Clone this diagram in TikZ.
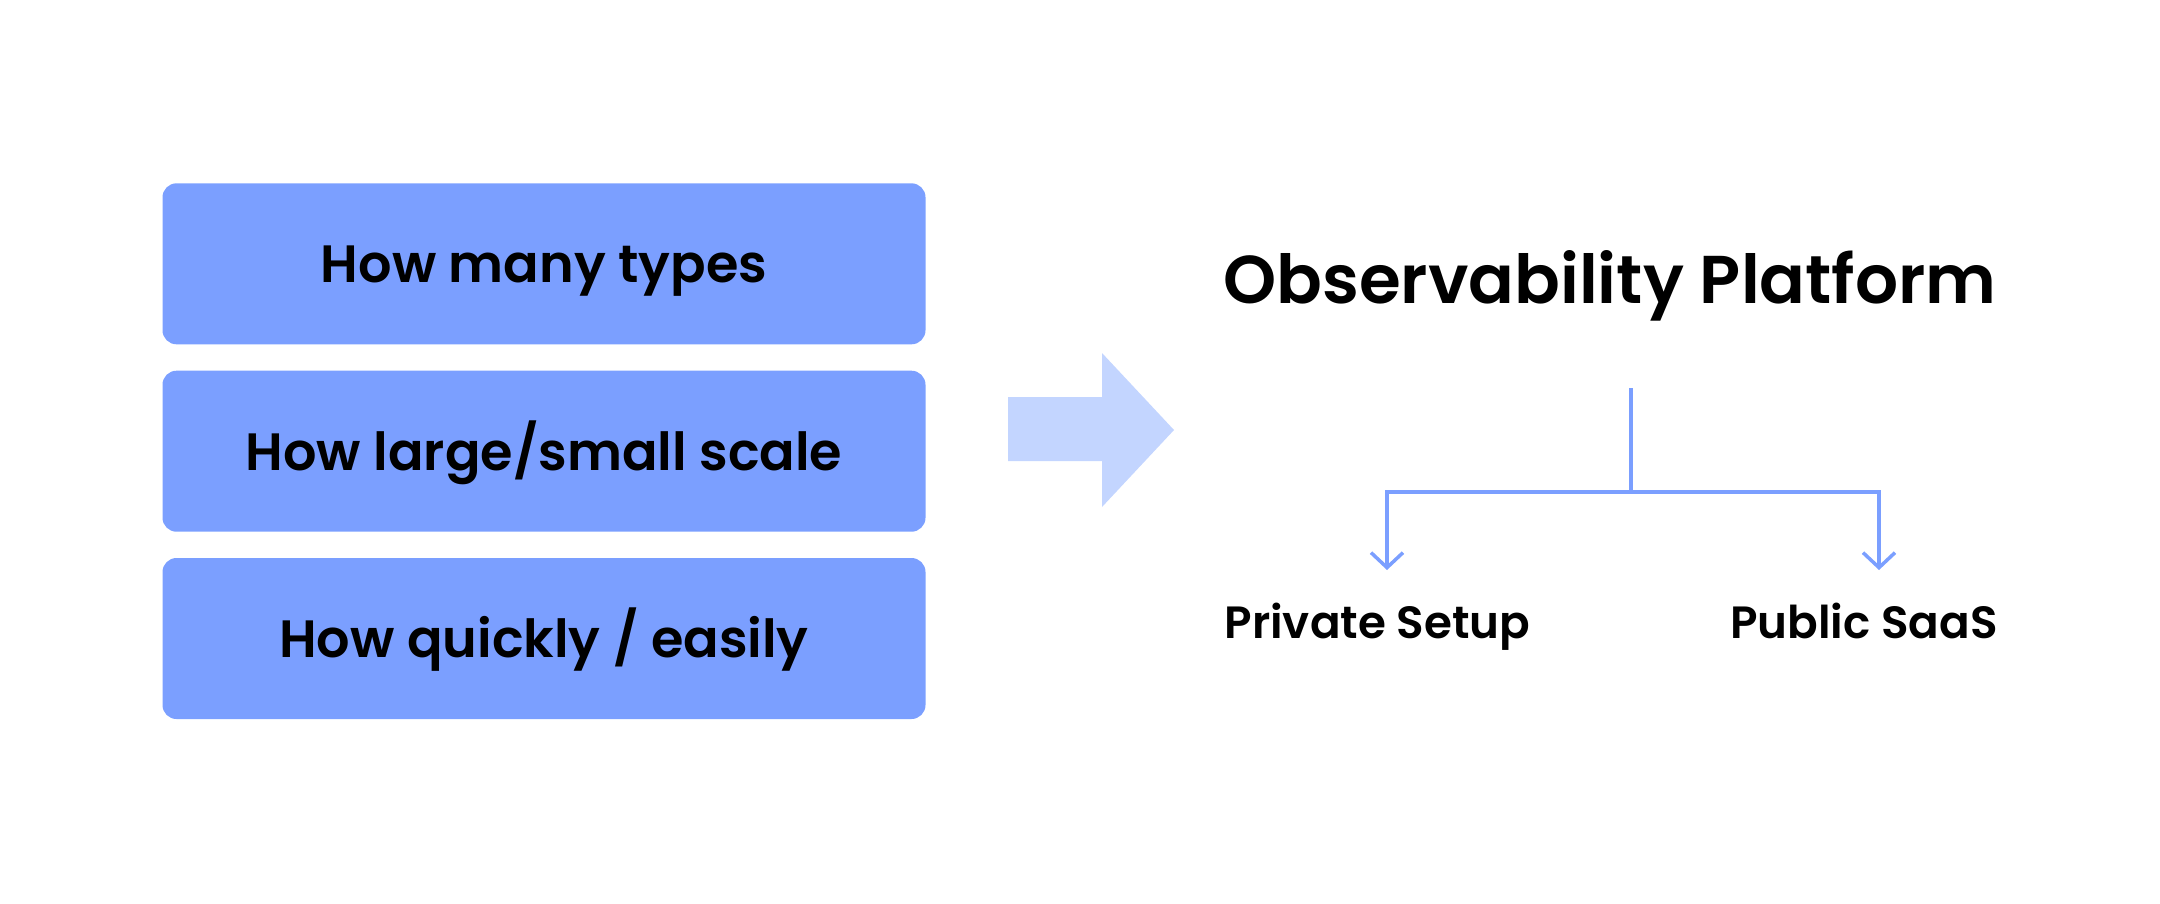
\documentclass[tikz,border=0pt]{standalone}
\usepackage{fontspec}
\setmainfont{Poppins}[BoldFont={Poppins SemiBold}]
\usetikzlibrary{arrows.meta}
\definecolor{boxblue}{HTML}{7B9FFF}
\definecolor{lightblue}{HTML}{C3D5FF}
\begin{document}
\begin{tikzpicture}[x=1pt,y=-1pt,
  qbox/.style={fill=boxblue, rounded corners=14pt, minimum width=763pt, minimum height=161pt, inner sep=0pt},
  qtxt/.style={inner sep=0pt, anchor=base, font=\fontsize{52.5}{63}\selectfont\bfseries},
  lbl/.style={inner sep=0pt, anchor=base, font=\fontsize{45.2}{54}\selectfont\bfseries},
  conn/.style={draw=boxblue, line width=3.5pt},
  tip/.style={-{Straight Barb[length=15pt,width=32pt,line width=3.5pt]}}]
\useasboundingbox (0,0) rectangle (2160,903);
\node[qbox] (b1) at (544,263.8) {};
\node[qbox] (b2) at (544,451.2) {};
\node[qbox] (b3) at (544,638.5) {};
\node[qtxt] (t1) at (544,282.7) {How many types};
\node[qtxt] (t2) at (544,470) {How large/small scale};
\node[qtxt] (t3) at (544,657.3) {How quickly / easily};
\fill[lightblue] (1008,397) -- (1102,397) -- (1102,353) -- (1174,430) -- (1102,507) -- (1102,461) -- (1008,461) -- cycle;
\node[inner sep=0pt, anchor=base, font=\fontsize{67.6}{80}\selectfont\bfseries] (title) at (1610,303) {Observability Platform};
\coordinate (top) at (1631,388);
\coordinate (mid) at (1631,492);
\coordinate (pl) at (1387,492);
\coordinate (pr) at (1879,492);
\node[lbl] (priv) at (1377.5,638) {Private Setup};
\node[lbl] (pub) at (1864,638) {Public SaaS};
\draw[conn] (top) -- (mid);
\draw[conn, tip] (mid) -- (pl) -- (1387,570);
\draw[conn, tip] (mid) -- (pr) -- (1879,570);
\end{tikzpicture}
\end{document}
